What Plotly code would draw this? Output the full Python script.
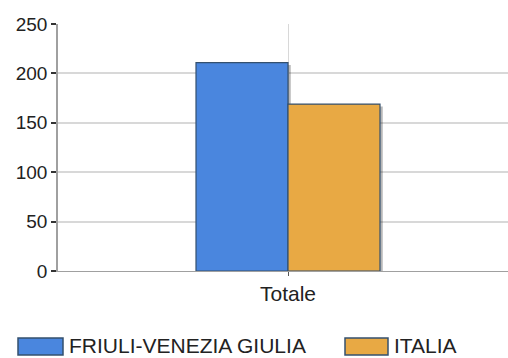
import plotly.graph_objects as go

categories = ["Totale"]
series_names = ["FRIULI-VENEZIA GIULIA", "ITALIA"]
friuli_values = [211]
italia_values = [169]
y_ticks = [0, 50, 100, 150, 200, 250]

colors = ["#4a86de", "#e8a944"]
edge = "#34506e"
font_family = "Liberation Sans, Arial, sans-serif"

# plot area geometry in pixels, used to place the custom legend
L, R, T, B, W, H = 58, 0, 24, 87, 508, 358
pw, ph = W - L - R, H - T - B


def px_to_paper(x, y):
    return (x - L) / pw, (H - B - y) / ph


fig = go.Figure()
series = [
    (series_names[0], friuli_values, colors[0], -0.4),
    (series_names[1], italia_values, colors[1], 0.0),
]
# soft drop shadows behind the bars
for name, vals, col, off in series:
    fig.add_trace(go.Bar(
        x=[0], y=vals, base=-2.5, width=0.4, offset=off + 0.012,
        marker=dict(color="rgba(0,0,0,0.28)", line=dict(width=0)),
        showlegend=False, hoverinfo="skip",
    ))
for name, vals, col, off in series:
    fig.add_trace(go.Bar(
        x=[0], y=vals, name=name, width=0.4, offset=off,
        marker=dict(color=col, line=dict(color=edge, width=1.2)),
        showlegend=False,
    ))

fig.update_layout(
    width=W, height=H,
    margin=dict(l=L, r=R, t=T, b=B),
    paper_bgcolor="white", plot_bgcolor="white",
    font=dict(family=font_family, size=17, color="#222"),
    barmode="overlay",
    xaxis=dict(
        range=[-1, 0.9565], tickvals=[0], ticktext=categories,
        showgrid=True, gridcolor="#d8d8d8", gridwidth=1,
        showline=True, linecolor="#a0a0a0", linewidth=1,
        ticks="outside", ticklen=4, tickcolor="#555", tickwidth=1,
        zeroline=False, fixedrange=True,
        tickfont=dict(size=21, color="#222"),
    ),
    yaxis=dict(
        range=[0, 250], tickvals=y_ticks,
        showgrid=True, gridcolor="#d8d8d8", gridwidth=1.5,
        showline=True, linecolor="#a0a0a0", linewidth=1.5,
        ticks="outside", ticklen=5, tickcolor="#333", tickwidth=1.5,
        zeroline=False, fixedrange=True,
        tickfont=dict(size=19, color="#222"),
    ),
)

# legend drawn below the plot with wide swatches
legend_items = [
    (18, 63, series_names[0], colors[0]),
    (345, 388, series_names[1], colors[1]),
]
for sx0, sx1, name, col in legend_items:
    x0, y0 = px_to_paper(sx0, 338)
    x1, y1 = px_to_paper(sx1, 355)
    fig.add_shape(type="rect", xref="paper", yref="paper",
                  x0=x0, x1=x1, y0=y0, y1=y1,
                  fillcolor=col, line=dict(color=edge, width=1.5))
    tx, ty = px_to_paper(sx1 + 4, 345)
    fig.add_annotation(xref="paper", yref="paper", x=tx, y=ty,
                       text=name, showarrow=False, xanchor="left", yanchor="middle",
                       font=dict(size=21, color="#222", family=font_family))

fig.write_html("out.html")
